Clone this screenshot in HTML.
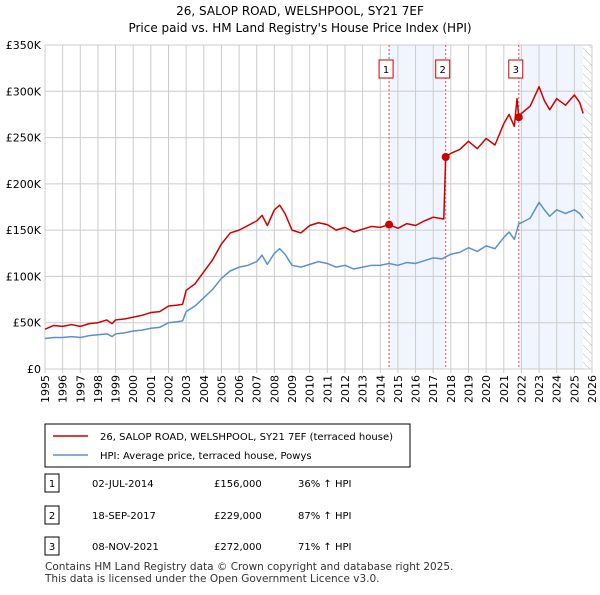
<!DOCTYPE html>
<html><head><meta charset="utf-8"><style>
body{margin:0;background:#fff;font-family:"Liberation Sans","DejaVu Sans",sans-serif;}
svg text{font-family:"DejaVu Sans","Liberation Sans",sans-serif;}
</style></head><body>
<svg id="c" width="600" height="590" xmlns="http://www.w3.org/2000/svg">
<defs><pattern id="h" width="6" height="6" patternUnits="userSpaceOnUse" patternTransform="rotate(-45)"><line x1="0" y1="0" x2="0" y2="6" stroke="#bbb" stroke-width="1"/></pattern></defs>
<text x="300" y="15" text-anchor="middle" font-size="12">26, SALOP ROAD, WELSHPOOL, SY21 7EF</text>
<text x="300" y="32" text-anchor="middle" font-size="12">Price paid vs. HM Land Registry's House Price Index (HPI)</text>
<g id="plot"></g>
<g>
<rect x="45" y="424" width="365" height="43" fill="#fff" stroke="#000" stroke-width="1"/>
<line x1="53" y1="436" x2="88" y2="436" stroke="#cc0000" stroke-width="1.5"/>
<text x="100" y="440" font-size="10">26, SALOP ROAD, WELSHPOOL, SY21 7EF (terraced house)</text>
<line x1="53" y1="455" x2="88" y2="455" stroke="#5b8fd0" stroke-width="1.5"/>
<text x="100" y="459" font-size="10">HPI: Average price, terraced house, Powys</text>
</g>
<g id="tbl" font-size="10"></g>
<text x="45" y="570" font-size="10.5" fill="#333">Contains HM Land Registry data © Crown copyright and database right 2025.</text>
<text x="45" y="582" font-size="10.5" fill="#333">This data is licensed under the Open Government Licence v3.0.</text>
</svg>
<script>
const hpiYears=[1995,1995.5,1996,1996.5,1997,1997.5,1998,1998.5,1998.8,1999,1999.5,2000,2000.5,2001,2001.5,2002,2002.5,2002.8,2003,2003.5,2004,2004.5,2005,2005.5,2006,2006.5,2007,2007.3,2007.6,2008,2008.3,2008.6,2009,2009.5,2010,2010.5,2011,2011.5,2012,2012.5,2013,2013.5,2014,2014.5,2015,2015.5,2016,2016.5,2017,2017.5,2018,2018.5,2019,2019.5,2020,2020.5,2021,2021.3,2021.6,2021.85,2022,2022.5,2023,2023.3,2023.6,2024,2024.5,2025,2025.3,2025.5];
const hpiValues=[33,34,34,35,34,36,37,38,35,38,39,41,42,44,45,50,51,52,62,68,77,86,98,106,110,112,116,123,113,125,130,124,112,110,113,116,114,110,112,108,110,112,112,114,112,115,114,117,120,119,124,126,131,127,133,130,142,148,140,157,158,163,180,172,165,172,168,172,168,163];
const priceYears=[1995,1995.5,1996,1996.5,1997,1997.5,1998,1998.5,1998.8,1999,1999.5,2000,2000.5,2001,2001.5,2002,2002.5,2002.8,2003,2003.5,2004,2004.5,2005,2005.5,2006,2006.5,2007,2007.3,2007.6,2008,2008.3,2008.6,2009,2009.5,2010,2010.5,2011,2011.5,2012,2012.5,2013,2013.5,2014,2014.5,2015,2015.5,2016,2016.5,2017,2017.6,2017.71,2018,2018.5,2019,2019.5,2020,2020.5,2021,2021.3,2021.6,2021.75,2021.85,2022,2022.5,2023,2023.3,2023.6,2024,2024.5,2025,2025.3,2025.5];
const priceValues=[43,47,46,48,46,49,50,53,49,53,54,56,58,61,62,68,69,70,85,92,105,118,135,147,150,155,160,166,155,172,177,168,150,147,155,158,156,150,153,148,151,154,153,156,152,157,155,160,164,162,229,233,237,246,238,249,242,265,275,262,292,272,276,284,305,290,280,292,285,296,288,276];
const saleLabels=["1","2","3"];
const saleYears=[2014.5,2017.71,2021.85];
const salePrices=[156,229,272];
const saleDates=["02-JUL-2014","18-SEP-2017","08-NOV-2021"];
const salePriceText=["£156,000","£229,000","£272,000"];
const saleHpiText=["36% ↑ HPI","87% ↑ HPI","71% ↑ HPI"];
const yTicks=[0,50,100,150,200,250,300,350];
const yTickLabels=["£0","£50K","£100K","£150K","£200K","£250K","£300K","£350K"];
const xTicks=[1995,1996,1997,1998,1999,2000,2001,2002,2003,2004,2005,2006,2007,2008,2009,2010,2011,2012,2013,2014,2015,2016,2017,2018,2019,2020,2021,2022,2023,2024,2025,2026];

const NS="http://www.w3.org/2000/svg";
const X0=45,X1=592,Y0=369,Y1=45;
const xs=y=>X0+(y-1995)/(2026-1995)*(X1-X0);
const ys=v=>Y0-v/350*(Y0-Y1);
const plot=document.getElementById('plot');
function mk(t,a,p){const e=document.createElementNS(NS,t);for(const k in a)e.setAttribute(k,a[k]);(p||plot).appendChild(e);return e;}
const sh1=mk('rect',{x:xs(saleYears[0]),y:Y1,width:xs(saleYears[1])-xs(saleYears[0]),height:Y0-Y1,fill:'#eef3fc',opacity:0.8});


const sh2=mk('rect',{x:xs(saleYears[2]),y:Y1,width:xs(2025.5)-xs(saleYears[2]),height:Y0-Y1,fill:'#eef3fc',opacity:0.8});


const hat=mk('rect',{x:xs(2025.5),y:Y1,width:X1-xs(2025.5),height:Y0-Y1,fill:'url(#h)'});


xTicks.forEach(t=>{const x=xs(t);
 const g=mk('line',{x1:x,y1:Y1,x2:x,y2:Y0+4,stroke:'#ccc','stroke-width':1});
 
 
 const tx=mk('text',{x:0,y:0,'font-size':11,'text-anchor':'end',transform:`translate(${x+4},${Y0+6}) rotate(-90)`});
 tx.textContent=t;
 
 
});
yTicks.forEach((t,i)=>{const y=ys(t);
 const g=mk('line',{x1:X0,y1:y,x2:X1,y2:y,stroke:'#ccc','stroke-width':1});
 
 
 const tx=mk('text',{x:X0-4,y:y+4,'font-size':11,'text-anchor':'end'});
 tx.textContent=yTickLabels[i];
 
 
});
saleYears.forEach((s,i)=>{const x=xs(s);
 const l=mk('line',{x1:x,y1:Y1,x2:x,y2:Y0,stroke:'#e05050','stroke-width':1,'stroke-dasharray':'2,2'});
 
 
 const b=mk('rect',{x:x-10,y:60,width:14,height:18,fill:'#fff',stroke:'#cc0000'});
 
 
 const t=mk('text',{x:x-3,y:73,'font-size':10,'text-anchor':'middle'});
 t.textContent=saleLabels[i];
 
 
});
const line=(yrs,vals,c,n)=>{const p=mk('polyline',{points:yrs.map((y,i)=>xs(y)+','+ys(vals[i])).join(' '),fill:'none',stroke:c,'stroke-width':1.5,'stroke-linejoin':'round'});
 
 };
line(hpiYears,hpiValues,'#5b8fd0','hpi-line');
line(priceYears,priceValues,'#cc0000','price-paid-line');
saleYears.forEach((s,i)=>{const d=mk('circle',{cx:xs(s),cy:ys(salePrices[i]),r:4,fill:'#cc0000'});
 
 });
const tbl=document.getElementById('tbl');
const rowY=[484,516,547];
saleLabels.forEach((l,i)=>{const y=rowY[i];
 const b=mk('rect',{x:45,y:y-10,width:14,height:18,fill:'#fff',stroke:'#000'},tbl);
 
 
 const cells=[[52,l,'middle'],[92,saleDates[i],'start'],[214,salePriceText[i],'start'],[298,saleHpiText[i],'start']];
 cells.forEach(c=>{const t=mk('text',{x:c[0],y:y+3,'text-anchor':c[2]},tbl);t.textContent=c[1];
  
  });
});
</script>
</body></html>
